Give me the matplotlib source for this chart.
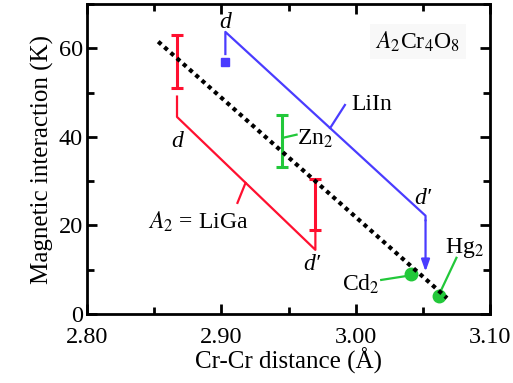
import matplotlib
matplotlib.use("Agg")
import matplotlib.pyplot as plt
from matplotlib.ticker import MultipleLocator

plt.rcParams["font.family"] = ["Liberation Serif", "DejaVu Serif"]
plt.rcParams["mathtext.fontset"] = "stix"

RED = "#ff1030"
BLUE = "#4a3cff"
GREEN = "#22c83a"

# LiGa: range bar at d, bracket line d -> d', range bar at d'
liga_d, liga_dp = 2.867, 2.970
liga_bar_d = (51.0, 63.0)
liga_bar_dp = (19.0, 30.5)
liga_line = (44.5, 14.5)
liga_tick = 4.6

# LiIn: d -> d' line, point at d, arrow down at d'
liin_d, liin_dp = 2.903, 3.052
liin_line = (63.7, 22.2)
liin_point = 57.0
liin_arrow_end = 9.6
liin_tick = 5.0

# Zn2 range bar
zn_x = 2.945
zn_bar = (33.2, 45.0)

# Cd2 and Hg2 points
cd_x, cd_y = 3.041, 9.0
hg_x, hg_y = 3.062, 4.1

# Linear trend
trend_x = [2.853, 3.068]
trend_y = [61.5, 3.6]


def range_bar(ax, x, lo, hi, color):
    ax.errorbar([x], [(lo + hi) / 2], yerr=[[(hi - lo) / 2], [(hi - lo) / 2]],
                fmt="none", ecolor=color, elinewidth=2.2, capsize=4.5, capthick=2.2)


fig = plt.figure(figsize=(5.13, 3.83), dpi=100)
ax = fig.add_axes([0.1696, 0.180, 0.7856, 0.8096])

ax.plot(trend_x, trend_y, color="black", linestyle=(0, (1, 1)), linewidth=3.0, zorder=4)

# LiGa
range_bar(ax, liga_d, *liga_bar_d, RED)
range_bar(ax, liga_dp, *liga_bar_dp, RED)
ax.plot([liga_d, liga_d, liga_dp, liga_dp],
        [liga_line[0] + liga_tick, liga_line[0], liga_line[1], liga_line[1] + liga_tick],
        color=RED, linewidth=1.6)
ax.plot([2.918, 2.912], [29.6, 25.1], color=RED, linewidth=1.6)

# LiIn
ax.plot([liin_d, liin_d, liin_dp, liin_dp],
        [liin_line[0] - liin_tick, liin_line[0], liin_line[1], liin_line[1] - 1.0],
        color=BLUE, linewidth=1.6)
ax.plot([liin_d], [liin_point], marker="s", color=BLUE, markersize=6, linestyle="none")
ax.annotate("", xy=(liin_dp, liin_arrow_end), xytext=(liin_dp, liin_line[1] - 1.0),
            arrowprops=dict(arrowstyle="-|>,head_length=0.7,head_width=0.25",
                            color=BLUE, lw=1.6, shrinkA=0, shrinkB=0))
ax.plot([2.981, 2.992], [42.0, 47.2], color=BLUE, linewidth=1.6)

# Zn2, Cd2, Hg2
range_bar(ax, zn_x, *zn_bar, GREEN)
ax.plot([2.946, 2.956], [39.8, 40.5], color=GREEN, linewidth=1.6)
ax.plot([cd_x, hg_x], [cd_y, hg_y], marker="o", color=GREEN, markersize=9,
        linestyle="none", zorder=3)
ax.plot([3.019, 3.038], [7.7, 8.6], color=GREEN, linewidth=1.6)
ax.plot([3.075, 3.063], [12.7, 5.0], color=GREEN, linewidth=1.6)

fs = 17
ax.text(2.867, 39.0, "d", fontsize=fs, style="italic", ha="center", va="center")
ax.text(2.903, 65.8, "d", fontsize=fs, style="italic", ha="center", va="center")
ax.text(3.050, 26.2, "d′", fontsize=fs, style="italic", ha="center", va="center")
ax.text(2.967, 11.1, "d′", fontsize=fs, style="italic", ha="center", va="center")
ax.text(2.883, 20.8, r"$A_2$ = LiGa", fontsize=fs, ha="center", va="center")
ax.text(2.997, 47.2, "LiIn", fontsize=fs, ha="left", va="center")
ax.text(2.956, 39.6, r"Zn$_2$", fontsize=fs, ha="left", va="center")
ax.text(3.018, 6.6, r"Cd$_2$", fontsize=fs, ha="right", va="center")
ax.text(3.081, 15.0, r"Hg$_2$", fontsize=fs, ha="center", va="center")
ax.text(3.078, 61.5, r"$A_2$Cr$_4$O$_8$", fontsize=fs, ha="right", va="center",
        bbox=dict(facecolor="#f8f8f8", edgecolor="none", pad=4))

ax.set_xlim(2.80, 3.10)
ax.set_ylim(0, 70)
ax.xaxis.set_major_locator(MultipleLocator(0.1))
ax.xaxis.set_minor_locator(MultipleLocator(0.05))
ax.yaxis.set_major_locator(MultipleLocator(20))
ax.yaxis.set_minor_locator(MultipleLocator(10))
ax.set_xticklabels([f"{v:.2f}" for v in ax.get_xticks()])
ax.tick_params(which="both", direction="in", top=True, right=True, labelsize=17.5, width=2)
ax.tick_params(which="major", length=7)
ax.tick_params(which="minor", length=5)
ax.tick_params(axis="x", pad=9)
ax.tick_params(axis="y", pad=3)
for s in ax.spines.values():
    s.set_linewidth(2)

ax.set_xlabel("Cr-Cr distance (Å)", fontsize=18, labelpad=0)
ax.set_ylabel("Magnetic interaction (K)", fontsize=18, labelpad=3)

fig.savefig("out.png", dpi=100)
